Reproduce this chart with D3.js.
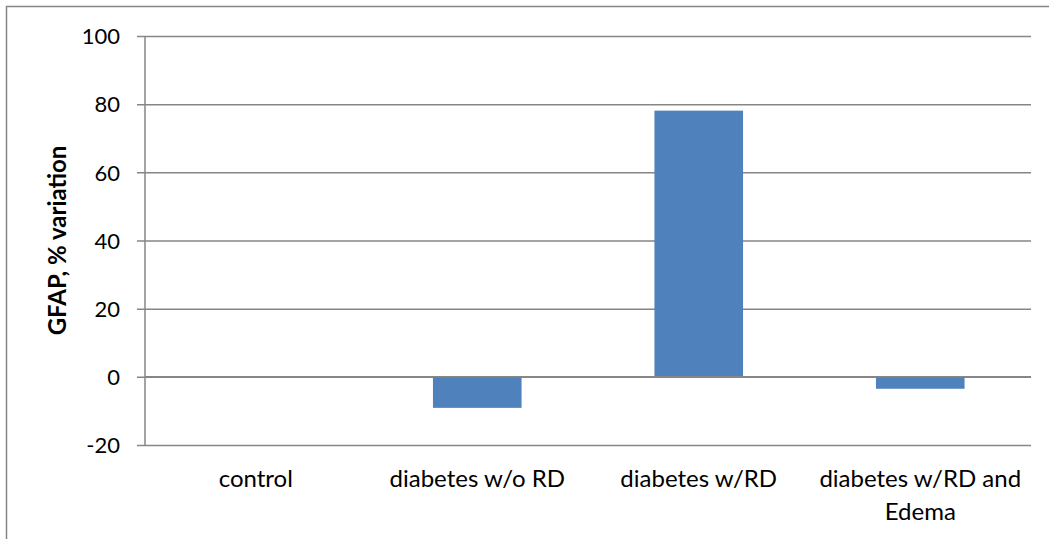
<!DOCTYPE html>
<html>
<head>
<meta charset="utf-8">
<script src="https://cdn.jsdelivr.net/npm/d3@7"></script>
<style>
  html, body { margin: 0; padding: 0; background: #fff; }
  svg { display: block; }
  text { font-family: Lato, "Open Sans", sans-serif; fill: #000; }
</style>
</head>
<body>
<svg id="chart" width="1049" height="539"></svg>
<script>
// GFAP change relative to control, per group
const categories = ["control", "diabetes w/o RD", "diabetes w/RD", "diabetes w/RD and Edema"];
const values = [0, -9.1, 78.1, -3.5];
const yTicks = [-20, 0, 20, 40, 60, 80, 100];
const yTitle = "GFAP, % variation";

const svg = d3.select("#chart");
const W = 1049, H = 539;
const plot = { left: 145, right: 1031, top: 36, bottom: 445 };
const gridColor = "#868686";

// chart frame
svg.append("rect")
  .attr("x", 6.5).attr("y", 6.5)
  .attr("width", W + 10).attr("height", H + 10)
  .attr("fill", "none").attr("stroke", gridColor).attr("stroke-width", 1.5);

const x = d3.scaleBand()
  .domain(categories)
  .range([plot.left, plot.right])
  .paddingInner(0.6).paddingOuter(0.3);

const y = d3.scaleLinear().domain([-20, 100]).range([plot.bottom, plot.top]);

// horizontal gridlines with short ticks to the left of the axis
const yAxis = d3.axisLeft(y)
  .tickValues(yTicks)
  .tickSize(-(plot.right - plot.left))
  .tickPadding(25)
  .tickFormat(d => String(d));

const gy = svg.append("g")
  .attr("transform", `translate(${plot.left},0)`)
  .call(yAxis);
gy.select(".domain").remove();
gy.selectAll(".tick line")
  .attr("x1", -8)
  .attr("stroke", gridColor).attr("stroke-width", 1.5);
gy.selectAll(".tick text")
  .style("font-size", "22px")
  .attr("dy", "0.35em");

// vertical axis line
svg.append("line")
  .attr("x1", plot.left).attr("x2", plot.left)
  .attr("y1", y(100)).attr("y2", y(-20))
  .attr("stroke", gridColor).attr("stroke-width", 1.5);

// bars
svg.append("g").selectAll("rect")
  .data(categories.map((c, i) => ({ c, v: values[i] })))
  .join("rect")
  .attr("x", d => x(d.c))
  .attr("width", x.bandwidth())
  .attr("y", d => y(Math.max(0, d.v)))
  .attr("height", d => Math.abs(y(d.v) - y(0)))
  .attr("fill", "#4F81BD");

// zero line drawn over the bars
svg.append("line")
  .attr("x1", plot.left).attr("x2", plot.right)
  .attr("y1", y(0)).attr("y2", y(0))
  .attr("stroke", gridColor).attr("stroke-width", 1.5);

// category labels, wrapped where long
const labelLines = {
  "diabetes w/RD and Edema": ["diabetes w/RD and", "Edema"]
};
const xl = svg.append("g");
categories.forEach(c => {
  const lines = labelLines[c] || [c];
  const t = xl.append("text")
    .attr("text-anchor", "middle")
    .style("font-size", "24px");
  lines.forEach((ln, i) => {
    t.append("tspan")
      .attr("x", x(c) + x.bandwidth() / 2)
      .attr("y", 487 + i * 33)
      .text(ln);
  });
});

// y-axis title
svg.append("text")
  .attr("transform", `translate(66,${(plot.top + plot.bottom) / 2}) rotate(-90)`)
  .attr("text-anchor", "middle")
  .style("font-size", "24px")
  .style("font-weight", "bold")
  .text(yTitle);
</script>
</body>
</html>
